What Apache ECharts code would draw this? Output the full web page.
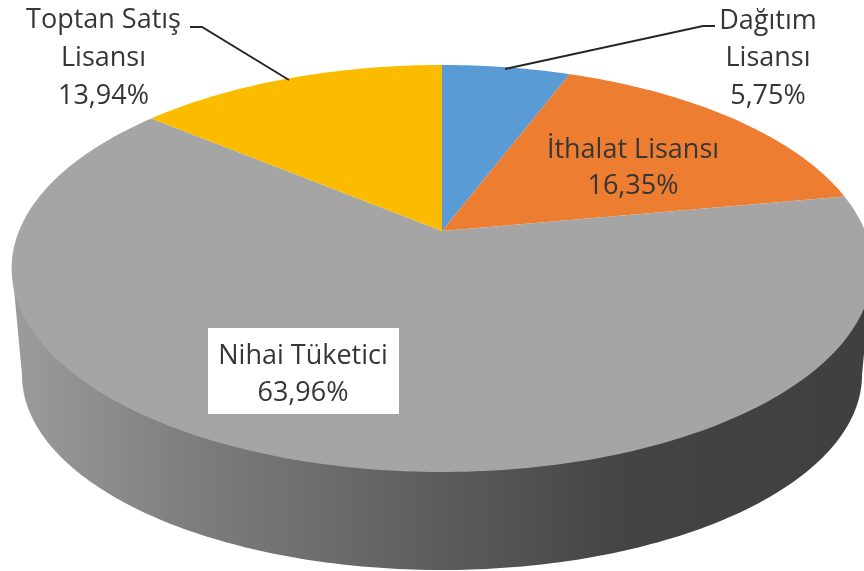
<!DOCTYPE html>
<html><head><meta charset="utf-8">
<style>html,body{margin:0;padding:0;background:#fff}#c{width:864px;height:571px;filter:blur(0.5px)}</style>
<script src="https://cdn.jsdelivr.net/npm/echarts@6/dist/echarts.min.js"></script>
</head><body><div id="c"></div>
<script>
const categories = ['Dağıtım Lisansı', 'İthalat Lisansı', 'Nihai Tüketici', 'Toptan Satış Lisansı'];
const values = [5.75, 16.35, 63.96, 13.94];
const labelLines = [['Dağıtım', 'Lisansı'], ['İthalat Lisansı'], ['Nihai Tüketici'], ['Toptan Satış', 'Lisansı']];
const colors = ['#5b9bd5', '#ed7d31', '#a5a5a5', '#fbbc00'];

// perspective projection of the disc onto the page
const apexX = 442, apexY = 231, kx = 423, ky = -154, persp = 0.1843;
function project(deg) {
  const t = deg * Math.PI / 180, u = Math.sin(t), v = Math.cos(t), d = 1 + persp * v;
  return [apexX + kx * u / d, (ky * v + apexY) / d];
}
const total = values.reduce((a, b) => a + b, 0);
function sectorPoints(i) {
  let before = 0;
  for (let k = 0; k < i; k++) before += values[k];
  const a0 = before / total * 360, a1 = (before + values[i]) / total * 360;
  const pts = [[apexX, apexY]];
  const n = Math.max(12, Math.ceil(a1 - a0));
  for (let s = 0; s <= n; s++) pts.push(project(a0 + (a1 - a0) * s / n));
  return pts;
}
function wallPoints() {
  const pts = [[12, 268]];
  for (let s = 0; s <= 180; s++) {
    const t = Math.PI - s * Math.PI / 180;
    pts.push([442 + 420 * Math.cos(t), 375 + 195 * Math.sin(t)]);
  }
  pts.push([872, 268]);
  return pts;
}
const labelPos = [[768, 58.5], [633, 168], [303, 375], [103.5, 58.5]];
const leaders = [
  [[505, 69], [703, 26], [715, 26]], null, null,
  [[289, 80], [202, 27], [190, 27]]
];
const labelStyle = [
  {lineHeight: 37.5}, {lineHeight: 36}, {lineHeight: 37}, {lineHeight: 38}
];
const fontFamily = '"Open Sans", sans-serif', fontSize = 27;

function renderItem(params) {
  const i = params.dataIndex;
  const kids = [];
  if (i === 2) {
    kids.push({
      type: 'polygon', shape: {points: wallPoints()},
      style: {fill: new echarts.graphic.LinearGradient(0, 0, 1, 0, [
        {offset: 0, color: '#9c9c9c'},
        {offset: 0.2, color: '#7f7f7f'},
        {offset: 0.5, color: '#5c5c5c'},
        {offset: 0.72, color: '#434343'},
        {offset: 1, color: '#404040'}
      ])}
    });
  }
  kids.push({type: 'polygon', shape: {points: sectorPoints(i)}, style: {fill: colors[i]}});
  return {type: 'group', children: kids};
}
function labelItem(params) {
  const i = params.dataIndex;
  const kids = [];
  if (leaders[i]) kids.push({type: 'polyline', shape: {points: leaders[i]},
    style: {stroke: '#262626', lineWidth: 2, fill: null}});
  if (i === 2) kids.push({type: 'rect', shape: {x: 208, y: 328, width: 191, height: 86}, style: {fill: '#fff'}});
  const pct = values[i].toFixed(2).replace('.', ',') + '%';
  kids.push({
    type: 'text', x: labelPos[i][0], y: labelPos[i][1],
    style: {
      text: labelLines[i].concat(pct).join('\n'),
      fill: '#363636', font: fontSize + 'px ' + fontFamily,
      lineHeight: labelStyle[i].lineHeight, align: 'center', verticalAlign: 'middle'
    }
  });
  return {type: 'group', children: kids};
}
const data = categories.map((n, i) => ({name: n, value: values[i]}));
const chart = echarts.init(document.getElementById('c'), null, {renderer: 'canvas'});
chart.setOption({
  animation: false,
  series: [
    {type: 'custom', coordinateSystem: 'none', renderItem, data, silent: true, z: 1},
    {type: 'custom', coordinateSystem: 'none', renderItem: labelItem, data, silent: true, z: 2}
  ]
});
</script></body></html>
